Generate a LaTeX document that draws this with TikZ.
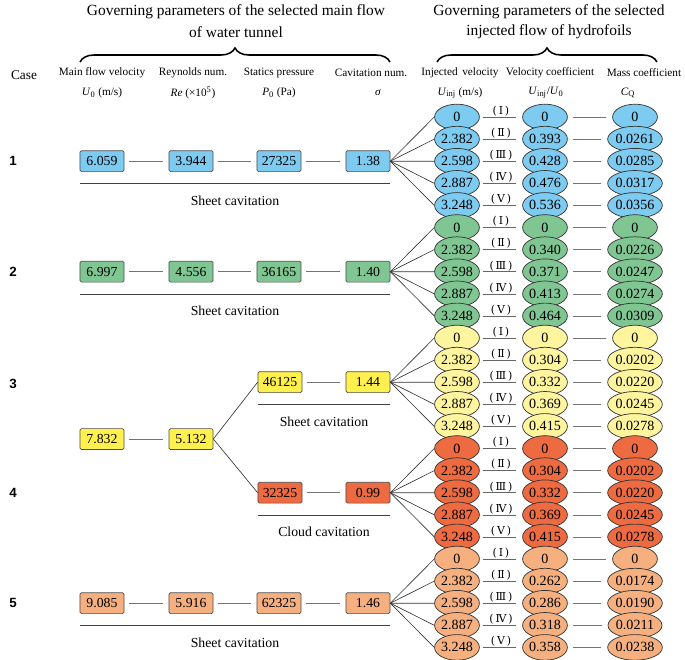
\documentclass[tikz,border=0pt]{standalone}
\usepackage{fontspec}
\setmainfont{Liberation Serif}
\setsansfont{Liberation Sans}
\newfontfamily\romanfont{DejaVu Serif}
\usetikzlibrary{shapes.geometric,decorations.pathreplacing}

\definecolor{cblue}{HTML}{7DCBF1}
\definecolor{cgreen}{HTML}{80C693}
\definecolor{cyellow}{HTML}{FFF04D}
\definecolor{clightyellow}{HTML}{FFF59E}
\definecolor{cred}{HTML}{EE6A40}
\definecolor{corange}{HTML}{F6B07F}

\tikzset{
    parbox/.style={draw=black!70, line width=0.5pt, rounded corners=1pt, minimum width=1.1cm, minimum height=0.52cm, inner sep=0pt, font=\fontsize{9.8}{10}\selectfont},
    injell/.style={ellipse, draw=black!80, line width=0.5pt, minimum width=1.12cm, minimum height=0.64cm, inner sep=0pt, font=\fontsize{10}{10}\selectfont},
    link/.style={draw=black!55, shorten <=0.125cm, shorten >=0.15cm},
    tagline/.style={draw=black!60, shorten <=0.075cm, shorten >=0.15cm},
    fan/.style={draw=black!80, line width=0.45pt},
    rule/.style={draw=black!75, line width=0.6pt},
    casenum/.style={font=\sffamily\bfseries\fontsize{9.5}{10}\selectfont},
    colhead/.style={font=\fontsize{8}{9}\selectfont, inner sep=0pt},
    headtext/.style={font=\fontsize{11}{12}\selectfont, inner sep=0pt},
    cavlabel/.style={font=\fontsize{9.8}{10}\selectfont, inner sep=0pt},
    rnum/.style={font=\romanfont\fontsize{7.8}{8}\selectfont, inner sep=0.5pt, above},
    bigbrace/.style={decorate, decoration={brace, amplitude=0.35cm}, line width=1.1pt}
}

\begin{document}
\begin{tikzpicture}[x=0.025cm, y=-0.025cm]
    \useasboundingbox (0,0) rectangle (685,659);

    % headings
    \node[headtext] (hl1) at (236,12) {Governing parameters of the selected main flow};
    \node[headtext] (hl2) at (236,32) {of water tunnel};
    \node[headtext] (hr1) at (549,12) {Governing parameters of the selected};
    \node[headtext] (hr2) at (549,32) {injected flow of hydrofoils};
    \draw[bigbrace] (80,62) -- (390,62);
    \draw[bigbrace] (437,62) -- (657,62);

    % column heads
    \node[font=\fontsize{9.5}{10}\selectfont] (hcase) at (24,75) {Case};
    \node[colhead] (h1) at (102,73) {Main flow velocity};
    \node[colhead] (h2) at (193,73) {Reynolds num.};
    \node[colhead] (h3) at (279,73) {Statics pressure};
    \node[colhead] (h4) at (371,73) {Cavitation num.};
    \node[colhead] (h5) at (460,73) {Injected\, velocity};
    \node[colhead] (h6) at (550,73) {Velocity coefficient};
    \node[colhead] (h7) at (644,73) {Mass coefficient};
    \node[colhead] (g1) at (102,93) {\textit{U}\textsubscript{0} (m/s)};
    \node[colhead] (g2) at (193,93) {\textit{Re} (×10\textsuperscript{5})};
    \node[colhead] (g3) at (279,93) {\textit{P}\textsubscript{0} (Pa)};
    \node[colhead] (g4) at (378,93) {\textit{σ}};
    \node[colhead] (g5) at (460,93) {\textit{U}\textsubscript{inj} (m/s)};
    \node[colhead] (g6) at (546,93) {\textit{U}\textsubscript{inj}/\textit{U}\textsubscript{0}};
    \node[colhead] (g7) at (628,93) {\textit{C}\textsubscript{Q}};

    % Case 1
    \begin{scope}
        \node[casenum] (n1) at (13,161) {1};
        \node[parbox, fill=cblue] (a1) at (102,161.2) {6.059};
        \node[parbox, fill=cblue] (b1) at (191,161.2) {3.944};
        \node[parbox, fill=cblue] (c1) at (279,161.2) {27325};
        \node[parbox, fill=cblue] (d1) at (368,161.2) {1.38};
        \draw[link] (a1) -- (b1);
        \draw[link] (b1) -- (c1);
        \draw[link] (c1) -- (d1);
        \draw[rule] ([yshift=-0.29cm]a1.south west) -- node[cavlabel, midway, yshift=-0.425cm] {Sheet cavitation} ([yshift=-0.29cm]d1.south east);
        \foreach \u/\v/\m/\r [count=\k from 0] in {0/0/0/Ⅰ, 2.382/0.393/0.0261/Ⅱ, 2.598/0.428/0.0285/Ⅲ, 2.887/0.476/0.0317/Ⅳ, 3.248/0.536/0.0356/Ⅴ} {
            \pgfmathsetmacro\yy{117+22.1*\k}
            \node[injell, fill=cblue] (u1\k) at (457,\yy) {\u};
            \node[injell, fill=cblue] (v1\k) at (545,\yy) {\v};
            \node[injell, fill=cblue] (m1\k) at (635,\yy) {\m};
            \draw[tagline] (u1\k) -- node[rnum] {(\,\r\,)} (v1\k);
            \draw[link] (v1\k) -- (m1\k);
        }
        \foreach \k in {0,...,4}
            \draw[fan] (d1.east) -- (u1\k.west);
    \end{scope}

    % Case 2
    \begin{scope}
        \node[casenum] (n2) at (13,272) {2};
        \node[parbox, fill=cgreen] (a2) at (102,271.7) {6.997};
        \node[parbox, fill=cgreen] (b2) at (191,271.7) {4.556};
        \node[parbox, fill=cgreen] (c2) at (279,271.7) {36165};
        \node[parbox, fill=cgreen] (d2) at (368,271.7) {1.40};
        \draw[link] (a2) -- (b2);
        \draw[link] (b2) -- (c2);
        \draw[link] (c2) -- (d2);
        \draw[rule] ([yshift=-0.29cm]a2.south west) -- node[cavlabel, midway, yshift=-0.425cm] {Sheet cavitation} ([yshift=-0.29cm]d2.south east);
        \foreach \u/\v/\m/\r [count=\k from 0] in {0/0/0/Ⅰ, 2.382/0.340/0.0226/Ⅱ, 2.598/0.371/0.0247/Ⅲ, 2.887/0.413/0.0274/Ⅳ, 3.248/0.464/0.0309/Ⅴ} {
            \pgfmathsetmacro\yy{227.5+22.1*\k}
            \node[injell, fill=cgreen] (u2\k) at (457,\yy) {\u};
            \node[injell, fill=cgreen] (v2\k) at (545,\yy) {\v};
            \node[injell, fill=cgreen] (m2\k) at (635,\yy) {\m};
            \draw[tagline] (u2\k) -- node[rnum] {(\,\r\,)} (v2\k);
            \draw[link] (v2\k) -- (m2\k);
        }
        \foreach \k in {0,...,4}
            \draw[fan] (d2.east) -- (u2\k.west);
    \end{scope}

    % Cases 3 and 4 (shared velocity)
    \begin{scope}
        \node[casenum] (n3) at (13,384) {3};
        \node[casenum] (n4) at (13,493) {4};
        \node[parbox, fill=cyellow] (a3) at (102,439) {7.832};
        \node[parbox, fill=cyellow] (b3) at (191,439) {5.132};
        \node[parbox, fill=cyellow] (c3) at (280,382.2) {46125};
        \node[parbox, fill=cyellow] (d3) at (368,382.2) {1.44};
        \node[parbox, fill=cred] (c4) at (280,492.7) {32325};
        \node[parbox, fill=cred] (d4) at (368,492.7) {0.99};
        \draw[link] (a3) -- (b3);
        \draw[link] (c3) -- (d3);
        \draw[link] (c4) -- (d4);
        \draw[fan] (b3.east) -- (c3.west);
        \draw[fan] (b3.east) -- (c4.west);
        \draw[rule] ([yshift=-0.29cm]c3.south west) -- node[cavlabel, midway, yshift=-0.425cm] {Sheet cavitation} ([yshift=-0.29cm]d3.south east);
        \draw[rule] ([yshift=-0.29cm]c4.south west) -- node[cavlabel, midway, yshift=-0.425cm] {Cloud cavitation} ([yshift=-0.29cm]d4.south east);
        \foreach \u/\v/\m/\r [count=\k from 0] in {0/0/0/Ⅰ, 2.382/0.304/0.0202/Ⅱ, 2.598/0.332/0.0220/Ⅲ, 2.887/0.369/0.0245/Ⅳ, 3.248/0.415/0.0278/Ⅴ} {
            \pgfmathsetmacro\yy{338+22.1*\k}
            \node[injell, fill=clightyellow] (u3\k) at (457,\yy) {\u};
            \node[injell, fill=clightyellow] (v3\k) at (545,\yy) {\v};
            \node[injell, fill=clightyellow] (m3\k) at (635,\yy) {\m};
            \draw[tagline] (u3\k) -- node[rnum] {(\,\r\,)} (v3\k);
            \draw[link] (v3\k) -- (m3\k);
        }
        \foreach \u/\v/\m/\r [count=\k from 0] in {0/0/0/Ⅰ, 2.382/0.304/0.0202/Ⅱ, 2.598/0.332/0.0220/Ⅲ, 2.887/0.369/0.0245/Ⅳ, 3.248/0.415/0.0278/Ⅴ} {
            \pgfmathsetmacro\yy{448.5+22.1*\k}
            \node[injell, fill=cred] (u4\k) at (457,\yy) {\u};
            \node[injell, fill=cred] (v4\k) at (545,\yy) {\v};
            \node[injell, fill=cred] (m4\k) at (635,\yy) {\m};
            \draw[tagline] (u4\k) -- node[rnum] {(\,\r\,)} (v4\k);
            \draw[link] (v4\k) -- (m4\k);
        }
        \foreach \k in {0,...,4} {
            \draw[fan] (d3.east) -- (u3\k.west);
            \draw[fan] (d4.east) -- (u4\k.west);
        }
    \end{scope}

    % Case 5
    \begin{scope}
        \node[casenum] (n5) at (13,603) {5};
        \node[parbox, fill=corange] (a5) at (102,603.2) {9.085};
        \node[parbox, fill=corange] (b5) at (191,603.2) {5.916};
        \node[parbox, fill=corange] (c5) at (279,603.2) {62325};
        \node[parbox, fill=corange] (d5) at (368,603.2) {1.46};
        \draw[link] (a5) -- (b5);
        \draw[link] (b5) -- (c5);
        \draw[link] (c5) -- (d5);
        \draw[rule] ([yshift=-0.29cm]a5.south west) -- node[cavlabel, midway, yshift=-0.425cm] {Sheet cavitation} ([yshift=-0.29cm]d5.south east);
        \foreach \u/\v/\m/\r [count=\k from 0] in {0/0/0/Ⅰ, 2.382/0.262/0.0174/Ⅱ, 2.598/0.286/0.0190/Ⅲ, 2.887/0.318/0.0211/Ⅳ, 3.248/0.358/0.0238/Ⅴ} {
            \pgfmathsetmacro\yy{559+22.1*\k}
            \node[injell, fill=corange] (u5\k) at (457,\yy) {\u};
            \node[injell, fill=corange] (v5\k) at (545,\yy) {\v};
            \node[injell, fill=corange] (m5\k) at (635,\yy) {\m};
            \draw[tagline] (u5\k) -- node[rnum] {(\,\r\,)} (v5\k);
            \draw[link] (v5\k) -- (m5\k);
        }
        \foreach \k in {0,...,4}
            \draw[fan] (d5.east) -- (u5\k.west);
    \end{scope}

\end{tikzpicture}
\end{document}
